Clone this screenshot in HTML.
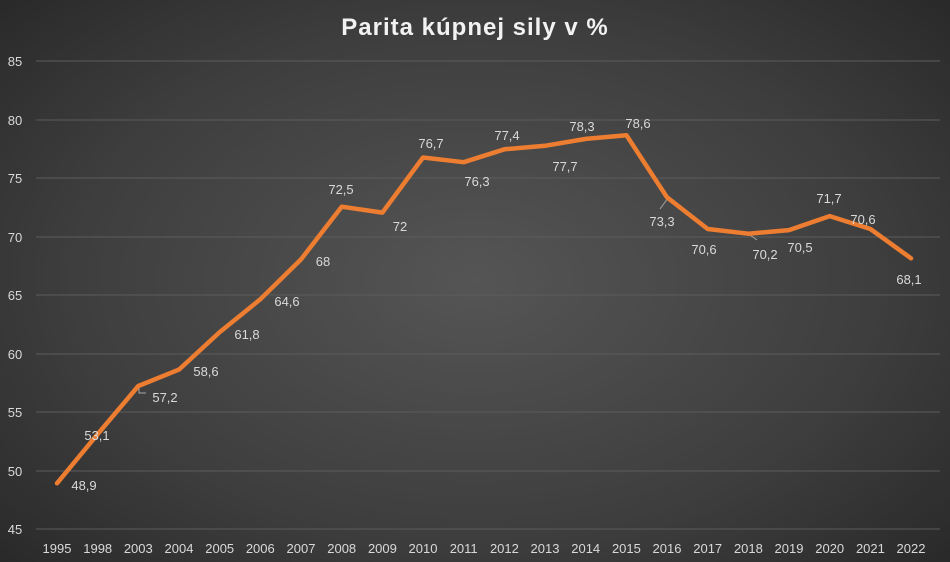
<!DOCTYPE html>
<html><head><meta charset="utf-8"><style>
html,body{margin:0;padding:0}
body{width:950px;height:562px;overflow:hidden;background:radial-gradient(ellipse 70% 75% at 50% 50%,#555 0%,#3e3e3e 60%,#282828 100%);font-family:"Liberation Sans",sans-serif}
</style></head><body>
<svg width="950" height="562" xmlns="http://www.w3.org/2000/svg" style="position:absolute;left:0;top:0">
<text x="475" y="35" text-anchor="middle" font-size="24" font-weight="bold" letter-spacing="1" fill="#f2f2f2" font-family="Liberation Sans, sans-serif">Parita kúpnej sily v %</text>
<g stroke="#5c5c5c" stroke-width="1">
<line x1="36" x2="940" y1="61" y2="61"/><line x1="36" x2="940" y1="120" y2="120"/><line x1="36" x2="940" y1="178" y2="178"/><line x1="36" x2="940" y1="237" y2="237"/><line x1="36" x2="940" y1="295" y2="295"/><line x1="36" x2="940" y1="354" y2="354"/><line x1="36" x2="940" y1="412" y2="412"/><line x1="36" x2="940" y1="471" y2="471"/><line x1="36" x2="940" y1="529" y2="529"/>
</g>
<g fill="#d9d9d9" font-size="13" text-anchor="middle" font-family="Liberation Sans, sans-serif">
<text x="15" y="66">85</text><text x="15" y="125">80</text><text x="15" y="183">75</text><text x="15" y="242">70</text><text x="15" y="300">65</text><text x="15" y="359">60</text><text x="15" y="417">55</text><text x="15" y="476">50</text><text x="15" y="534">45</text>
<text x="57" y="553">1995</text><text x="97.7" y="553">1998</text><text x="138.3" y="553">2003</text><text x="179" y="553">2004</text><text x="219.7" y="553">2005</text><text x="260.3" y="553">2006</text><text x="301" y="553">2007</text><text x="341.7" y="553">2008</text><text x="382.4" y="553">2009</text><text x="423" y="553">2010</text><text x="463.7" y="553">2011</text><text x="504.4" y="553">2012</text><text x="545" y="553">2013</text><text x="585.7" y="553">2014</text><text x="626.4" y="553">2015</text><text x="667" y="553">2016</text><text x="707.7" y="553">2017</text><text x="748.4" y="553">2018</text><text x="789" y="553">2019</text><text x="829.7" y="553">2020</text><text x="870.4" y="553">2021</text><text x="911" y="553">2022</text>
</g>
<g stroke="#a6a6a6" stroke-width="1" fill="none">
<polyline points="139,387 139,393 146,393"/>
<line x1="668" y1="198" x2="660" y2="209"/>
<line x1="750" y1="235" x2="757" y2="240"/>
</g>
<polyline fill="none" stroke="#ED7D31" stroke-width="4.5" stroke-linejoin="round" stroke-linecap="round" points="57,483.3 97.7,434.1 138.3,386 179,369.6 219.7,332.1 260.3,299.3 301,259.4 341.7,206.7 382.4,212.6 423,157.5 463.7,162.2 504.4,149.3 545,145.8 585.7,138.9 626.4,135.2 667,197.3 707.7,229 748.4,233.7 789,230.1 829.7,216.1 870.4,229 911,258.3"/>
<g fill="#d9d9d9" font-size="13" text-anchor="middle" font-family="Liberation Sans, sans-serif">
<text x="84" y="490">48,9</text><text x="97" y="440">53,1</text><text x="165" y="402">57,2</text><text x="206" y="376">58,6</text><text x="247" y="339">61,8</text><text x="287" y="306">64,6</text><text x="323" y="266">68</text><text x="341" y="194">72,5</text><text x="400" y="231">72</text><text x="431" y="148">76,7</text><text x="477" y="186">76,3</text><text x="507" y="140">77,4</text><text x="565" y="171">77,7</text><text x="582" y="131">78,3</text><text x="638" y="128">78,6</text><text x="662" y="226">73,3</text><text x="704" y="254">70,6</text><text x="765" y="259">70,2</text><text x="800" y="252">70,5</text><text x="829" y="203">71,7</text><text x="863" y="224">70,6</text><text x="909" y="284">68,1</text>
</g>
</svg>
</body></html>
